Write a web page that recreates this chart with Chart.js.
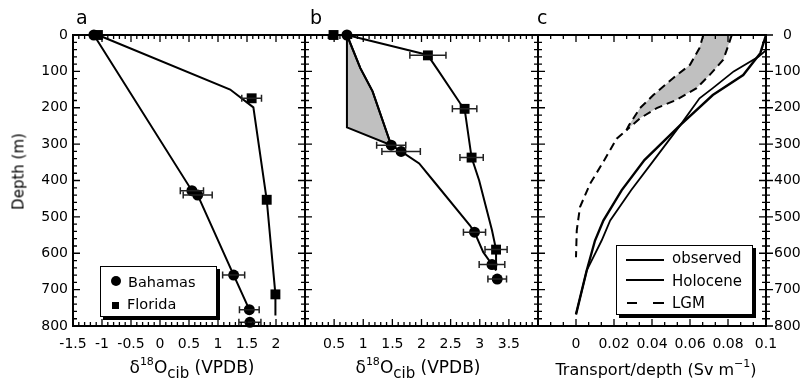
<!DOCTYPE html>
<html>
<head>
<meta charset="utf-8">
<title>d18O depth profiles</title>
<script src="https://cdn.jsdelivr.net/npm/chart.js@4.4.1/dist/chart.umd.min.js"></script>
<style>
  html, body { margin: 0; padding: 0; background: #fff; }
  #fig { position: relative; width: 800px; height: 385px; overflow: hidden; font-family: "DejaVu Sans", sans-serif; color: #000; }
  #fig canvas { position: absolute; left: 0; top: 0; }
  .txt { position: absolute; white-space: nowrap; }
  .panel { font-size: 19px; line-height: 19px; }
  .xt { font-size: 17px; line-height: 17px; text-align: center; width: 300px; }
  .xt sup { font-size: 11px; line-height: 0; vertical-align: 8px; }
  .xt sub { font-size: 15px; line-height: 0; vertical-align: -5px; }
  .box { position: absolute; background: #fff; border: 1px solid #000; box-shadow: 3px 3px 0 #000; }
  .mk { position: absolute; background: #000; }
  .leg { font-size: 14.5px; line-height: 14.5px; }
  .legc { font-size: 15px; line-height: 15px; }
</style>
</head>
<body>
<div id="fig">
  <canvas id="pa" width="800" height="385"></canvas>
  <canvas id="pb" width="800" height="385"></canvas>
  <canvas id="pc" width="800" height="385"></canvas>

  <div class="txt panel" style="left:76px;top:8px">a</div>
  <div class="txt panel" style="left:310px;top:8px">b</div>
  <div class="txt panel" style="left:537px;top:8px">c</div>

  <div class="txt" style="left:-31px;top:164px;width:100px;font-size:15px;line-height:15px;text-align:center;transform:rotate(-90deg)">Depth (m)</div>

  <div class="txt xt" style="left:42px;top:359px">δ<sup>18</sup>O<sub>cib</sub> (VPDB)</div>
  <div class="txt xt" style="left:268px;top:359px">δ<sup>18</sup>O<sub>cib</sub> (VPDB)</div>
  <div class="txt xt" style="left:506px;top:361px;font-size:16px">Transport/depth (Sv m<sup>−1</sup>)</div>

  <!-- legend a -->
  <div class="box" style="left:100px;top:266px;width:115px;height:49px"></div>
  <div class="mk" style="left:111px;top:275.5px;width:10px;height:10px;border-radius:50%"></div>
  <div class="mk" style="left:111.5px;top:301.5px;width:7px;height:7px"></div>
  <div class="txt leg" style="left:128px;top:274.5px">Bahamas</div>
  <div class="txt leg" style="left:127px;top:297px">Florida</div>

  <!-- legend c -->
  <div class="box" style="left:616px;top:245px;width:135px;height:68px"></div>
  <div class="mk" style="left:626px;top:258.7px;width:38px;height:2.6px"></div>
  <div class="mk" style="left:626px;top:279px;width:38px;height:2px"></div>
  <div class="mk" style="left:627px;top:301.5px;width:10px;height:2.4px"></div>
  <div class="mk" style="left:653px;top:301.5px;width:11px;height:2.4px"></div>
  <div class="txt legc" style="left:672px;top:251.3px">observed</div>
  <div class="txt legc" style="left:672px;top:274px">Holocene</div>
  <div class="txt legc" style="left:672px;top:295.6px">LGM</div>
</div>

<script>
// ---- values (depth in m, positive downwards) ----

// panel a
const bahamasA_d18O  = [-1.14, 0.55, 0.65, 1.27, 1.54, 1.55];
const bahamasA_depth = [0, 428, 440, 660, 755, 790];
const bahamasA_err   = [0, 0.2, 0.25, 0.19, 0.17, 0.19];
const floridaA_d18O  = [-1.07, 1.58, 1.84, 1.99];
const floridaA_depth = [0, 174, 453, 713];
const floridaA_err   = [0, 0.17, 0, 0];
const bahamasA_lineX = [-1.14, 0.55, 0.65, 1.27, 1.54];
const bahamasA_lineD = [0, 428, 440, 660, 755];
const floridaA_lineX = [-1.07, 1.21, 1.61, 1.84, 1.99, 1.99];
const floridaA_lineD = [0, 150, 199, 453, 713, 771];

// panel b
const bahamasB_d18O  = [0.72, 1.48, 1.65, 2.91, 3.21, 3.30];
const bahamasB_depth = [0, 303, 320, 542, 631, 671];
const bahamasB_err   = [0, 0.25, 0.33, 0.19, 0.22, 0.16];
const floridaB_d18O  = [0.49, 2.11, 2.74, 2.86, 3.28];
const floridaB_depth = [0, 56, 203, 337, 590];
const floridaB_err   = [0, 0.31, 0.21, 0.2, 0.19];
const bahamasB_lineX = [0.72, 0.95, 1.16, 1.48, 1.65, 1.96, 2.2, 2.83, 2.91, 3.06, 3.21, 3.28];
const bahamasB_lineD = [0, 91, 155, 303, 320, 353, 400, 523, 542, 597, 631, 647];
const floridaB_lineX = [0.72, 1.99, 2.11, 2.28, 2.66, 2.74, 2.86, 2.99, 3.21, 3.28, 3.28];
const floridaB_lineD = [0, 50, 56, 96, 187, 203, 337, 400, 537, 590, 647];
const bandB_x        = [0.72, 0.72, 1.48, 1.16, 0.95, 0.72];
const bandB_depth    = [0, 254, 303, 155, 91, 0];

// panel c
const observedX = [0.1, 0.097, 0.088, 0.072, 0.055, 0.036, 0.024, 0.0144, 0.010, 0.0056, 0];
const observedD = [0, 50, 110, 165, 247, 344, 427, 510, 565, 648, 768];
const holoceneX = [0.1, 0.096, 0.083, 0.072, 0.065, 0.055, 0.041, 0.029, 0.018, 0.0135, 0.0056, 0];
const holoceneD = [42, 60, 100, 146, 174, 247, 344, 427, 510, 565, 648, 768];
const lgmHighX  = [0.082, 0.080, 0.0775, 0.0705, 0.0635, 0.053, 0.0425, 0.0337, 0.0265];
const lgmHighD  = [0, 31, 68, 109, 146, 178, 201, 229, 262];
const lgmLowX   = [0.067, 0.065, 0.060, 0.0512, 0.0407, 0.0337, 0.028, 0.0265, 0.0214, 0.0148, 0.0074, 0.0021, 0.0004, 0];
const lgmLowD   = [0, 36, 82, 118, 165, 201, 247, 262, 285, 345, 409, 473, 537, 611];

// tick labels
const xLabelsA = [-1.5, -1, -0.5, 0, 0.5, 1, 1.5, 2];
const xLabelsB = [0.5, 1, 1.5, 2, 2.5, 3, 3.5];
const xLabelsC = [0, 0.02, 0.04, 0.06, 0.08, 0.1];

// ---- layout ----
const PLOT_TOP = 35, PLOT_BOTTOM = 326;
const tickFont = { family: 'DejaVu Sans', size: 14 };

const pts = (xs, ds) => xs.map((x, i) => ({ x: x, y: ds[i] }));

function lineSet(xs, ds, extra) {
  return Object.assign({
    data: pts(xs, ds), showLine: true, borderColor: '#000', borderWidth: 2,
    pointRadius: 0, fill: false, clip: false, order: 2
  }, extra);
}

function markerSet(xs, ds, errs, style) {
  return {
    data: pts(xs, ds), errors: errs, showLine: false, pointStyle: style,
    pointRadius: style === 'rect' ? 7 : 5.5, backgroundColor: '#000',
    borderColor: '#000', borderWidth: 0, clip: false, order: 1
  };
}

function eachTick(scale, minor, major, fn) {
  const n = Math.round((scale.max - scale.min) / minor);
  for (let i = 0; i <= n; i++) {
    const v = scale.min + i * minor;
    const r = v / major;
    fn(scale.getPixelForValue(v), Math.abs(r - Math.round(r)) < 1e-6 ? 7 : 4);
  }
}

// box around each panel with inward ticks (minor + major)
const frameTicks = {
  id: 'frameTicks',
  afterDatasetsDraw(chart, args, o) {
    const { ctx, chartArea: a, scales: { x, y } } = chart;
    ctx.save();
    ctx.strokeStyle = '#000';
    ctx.lineWidth = 1.3;
    ctx.beginPath();
    eachTick(x, o.xMinor, o.xMajor, (px, len) => {
      ctx.moveTo(px, a.bottom); ctx.lineTo(px, a.bottom - len);
      ctx.moveTo(px, a.top); ctx.lineTo(px, a.top + len);
    });
    eachTick(y, 20, 100, (py, len) => {
      ctx.moveTo(a.left, py); ctx.lineTo(a.left + len, py);
      ctx.moveTo(a.right - len, py); ctx.lineTo(o.rightOut ? a.right + len : a.right, py);
    });
    ctx.stroke();
    ctx.lineWidth = 2;
    ctx.strokeRect(a.left, a.top, a.right - a.left, a.bottom - a.top);
    ctx.restore();
  }
};

// horizontal error bars with caps
const errorBars = {
  id: 'errorBars',
  afterDatasetsDraw(chart) {
    const { ctx, scales: { x, y } } = chart;
    ctx.save();
    ctx.strokeStyle = '#222';
    ctx.lineWidth = 1.5;
    chart.data.datasets.forEach(ds => {
      if (!ds.errors) return;
      ds.data.forEach((p, i) => {
        const e = ds.errors[i];
        if (!e) return;
        const py = y.getPixelForValue(p.y);
        const x1 = x.getPixelForValue(p.x - e), x2 = x.getPixelForValue(p.x + e);
        ctx.beginPath();
        ctx.moveTo(x1, py); ctx.lineTo(x2, py);
        ctx.moveTo(x1, py - 3.5); ctx.lineTo(x1, py + 3.5);
        ctx.moveTo(x2, py - 3.5); ctx.lineTo(x2, py + 3.5);
        ctx.stroke();
      });
    });
    ctx.restore();
  }
};

function panel(id, cfg) {
  const yw = cfg.yWidth || 0;
  return new Chart(document.getElementById(id), {
    type: 'scatter',
    data: { datasets: cfg.datasets },
    options: {
      responsive: false,
      animation: false,
      events: [],
      layout: {
        padding: {
          left: cfg.yPos === 'left' ? cfg.left - yw : cfg.left,
          right: 800 - cfg.right - (cfg.yPos === 'right' ? yw : 0),
          top: PLOT_TOP, bottom: 0
        }
      },
      plugins: { legend: { display: false }, tooltip: { enabled: false }, frameTicks: cfg.ticks },
      scales: {
        x: {
          type: 'linear', position: 'bottom', min: cfg.xMin, max: cfg.xMax,
          grid: { display: false, drawTicks: false }, border: { display: false },
          ticks: {
            stepSize: cfg.xStep, padding: 10, color: '#000', font: tickFont,
            maxRotation: 0, autoSkip: false,
            callback: v => cfg.xLabels.some(l => Math.abs(l - v) < 1e-9) ? String(+v.toFixed(3)) : null
          },
          afterFit: s => { s.height = 385 - PLOT_BOTTOM; }
        },
        y: {
          type: 'linear', reverse: true, min: 0, max: 800,
          display: cfg.yPos !== 'none', position: cfg.yPos === 'right' ? 'right' : 'left',
          grid: { display: false, drawTicks: false }, border: { display: false },
          ticks: {
            stepSize: 100, color: '#000', font: tickFont,
            padding: cfg.yPos === 'right' ? 8 : 5,
            crossAlign: cfg.yPos === 'right' ? 'center' : 'near'
          },
          afterFit: s => { s.width = yw; }
        }
      }
    },
    plugins: [errorBars, frameTicks]
  });
}

panel('pa', {
  left: 73, right: 305, yPos: 'left', yWidth: 73,
  xMin: -1.5, xMax: 2.5, xStep: 0.5, xLabels: xLabelsA,
  ticks: { xMinor: 0.1, xMajor: 0.5 },
  datasets: [
    markerSet(bahamasA_d18O, bahamasA_depth, bahamasA_err, 'circle'),
    markerSet(floridaA_d18O, floridaA_depth, floridaA_err, 'rect'),
    lineSet(bahamasA_lineX, bahamasA_lineD),
    lineSet(floridaA_lineX, floridaA_lineD)
  ]
});

panel('pb', {
  left: 305, right: 538, yPos: 'none',
  xMin: 0, xMax: 4, xStep: 0.5, xLabels: xLabelsB,
  ticks: { xMinor: 0.1, xMajor: 0.5 },
  datasets: [
    markerSet(bahamasB_d18O, bahamasB_depth, bahamasB_err, 'circle'),
    markerSet(floridaB_d18O, floridaB_depth, floridaB_err, 'rect'),
    lineSet(bahamasB_lineX, bahamasB_lineD),
    lineSet(floridaB_lineX, floridaB_lineD),
    lineSet(bandB_x, bandB_depth, { fill: 'shape', backgroundColor: '#c0c0c0', order: 3 })
  ]
});

panel('pc', {
  left: 538, right: 766, yPos: 'right', yWidth: 34,
  xMin: -0.02, xMax: 0.1, xStep: 0.02, xLabels: xLabelsC,
  ticks: { xMinor: 0.02 / 3, xMajor: 0.02, rightOut: true },
  datasets: [
    lineSet(observedX, observedD, { borderWidth: 2.4 }),
    lineSet(holoceneX, holoceneD, { borderWidth: 1.8 }),
    lineSet(lgmHighX, lgmHighD, { borderDash: [8, 5] }),
    lineSet(lgmLowX, lgmLowD, { borderDash: [8, 5] }),
    lineSet(lgmHighX.concat(lgmLowX.slice(0, 8).reverse()),
            lgmHighD.concat(lgmLowD.slice(0, 8).reverse()),
            { fill: 'shape', backgroundColor: '#c0c0c0', borderWidth: 0, order: 3 })
  ]
});
</script>
</body>
</html>
